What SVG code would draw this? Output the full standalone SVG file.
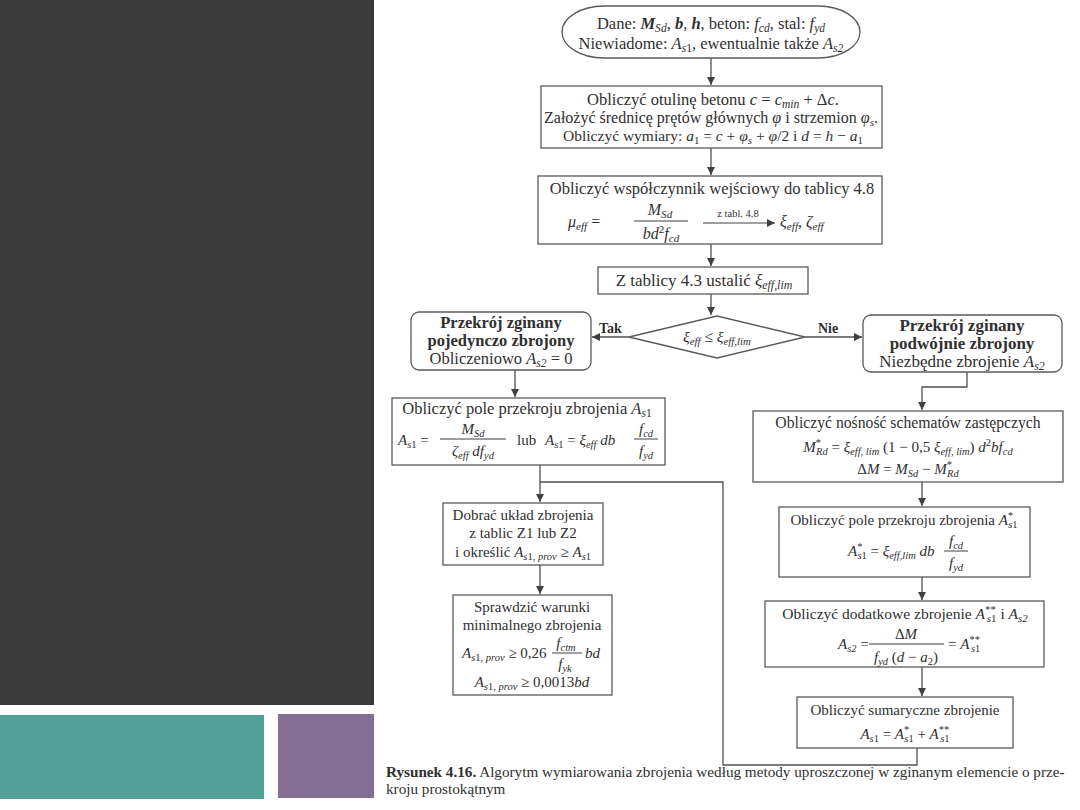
<svg xmlns="http://www.w3.org/2000/svg" width="1080" height="810" viewBox="0 0 1080 810" font-family="'Liberation Serif', 'DejaVu Serif', serif">
<style>
text{font-family:'Liberation Serif','DejaVu Serif',serif;font-size:15px;fill:#303030}
.c{text-anchor:middle}
.b{font-weight:bold}
.i{font-style:italic}
.s{font-size:0.7em}
.sm{font-size:14px}
.box{fill:#fff;stroke:#5a5a5a;stroke-width:1.3}
.ln{fill:none;stroke:#505050;stroke-width:1.3}
.fr{stroke:#404040;stroke-width:1}
.cap{font-size:15.2px}
</style>
<defs>
<marker id="ah" viewBox="0 0 10 10" refX="10" refY="5" markerWidth="9" markerHeight="8" markerUnits="userSpaceOnUse" orient="auto"><path d="M0,0L10,5L0,10z" fill="#404040"/></marker>
</defs>
<rect x="0" y="0" width="1080" height="810" fill="#ffffff"/>
<g id="decor">
<rect x="0" y="0" width="374" height="705" fill="#3a3a3a"/>
<rect x="0" y="715" width="264" height="84" fill="#529f98"/>
<rect x="278" y="714" width="96" height="84" fill="#826f93"/>
</g>

<g id="connectors">
<path class="ln" d="M711,58V85" marker-end="url(#ah)"/>
<path class="ln" d="M711,148V175" marker-end="url(#ah)"/>
<path class="ln" d="M711,244V266" marker-end="url(#ah)"/>
<path class="ln" d="M711,294V315" marker-end="url(#ah)"/>
<path class="ln" d="M629,337H592" marker-end="url(#ah)"/>
<path class="ln" d="M805,337H862" marker-end="url(#ah)"/>
<path class="ln" d="M515,370V397" marker-end="url(#ah)"/>
<path class="ln" d="M540,465V502" marker-end="url(#ah)"/>
<path class="ln" d="M540,482H723V765H917V748"/>
<path class="ln" d="M540,565V594" marker-end="url(#ah)"/>
<path class="ln" d="M967,372V387H922V410" marker-end="url(#ah)"/>
<path class="ln" d="M922,482V506" marker-end="url(#ah)"/>
<path class="ln" d="M922,577V600" marker-end="url(#ah)"/>
<path class="ln" d="M922,667V696" marker-end="url(#ah)"/>
<text x="599" y="333" class="sm b">Tak</text>
<text x="818" y="333" class="sm b">Nie</text>
</g>

<g id="n_start">
<rect class="box" x="562" y="6" width="298" height="52" rx="42" ry="26"/>
<text class="c" x="711" y="29" style="font-size:16.5px">Dane: <tspan class="i b">M</tspan><tspan class="i s" dy="2.5">Sd</tspan><tspan dy="-2.5">, </tspan><tspan class="i b">b</tspan>, <tspan class="i b">h</tspan>, beton: <tspan class="i">f</tspan><tspan class="i s" dy="2.5">cd</tspan><tspan dy="-2.5">, stal: </tspan><tspan class="i">f</tspan><tspan class="i s" dy="2.5">yd</tspan></text>
<text class="c" x="711" y="49" style="font-size:16.5px">Niewiadome: <tspan class="i">A</tspan><tspan class="i s" dy="2.5">s</tspan><tspan class="s">1</tspan><tspan dy="-2.5">, ewentualnie także </tspan><tspan class="i">A</tspan><tspan class="i s" dy="2.5">s2</tspan></text>
</g>

<g id="n_otulina">
<rect class="box" x="541" y="86" width="341" height="62"/>
<text class="c" x="713" y="105" style="font-size:16.5px">Obliczyć otulinę betonu <tspan class="i">c</tspan> = <tspan class="i">c</tspan><tspan class="i s" dy="2.5">min</tspan><tspan dy="-2.5"> + Δ</tspan><tspan class="i">c</tspan>.</text>
<text class="c" x="711" y="123" style="font-size:16px">Założyć średnicę prętów głównych <tspan class="i">φ</tspan> i strzemion <tspan class="i">φ</tspan><tspan class="i s" dy="2.5">s</tspan><tspan dy="-2.5">.</tspan></text>
<text class="c" x="713" y="141" style="font-size:15.5px">Obliczyć wymiary: <tspan class="i">a</tspan><tspan class="s" dy="2.5">1</tspan><tspan dy="-2.5"> = </tspan><tspan class="i">c</tspan> + <tspan class="i">φ</tspan><tspan class="i s" dy="2.5">s</tspan><tspan dy="-2.5"> + </tspan><tspan class="i">φ</tspan>/2 i  <tspan class="i">d</tspan> = <tspan class="i">h</tspan> − <tspan class="i">a</tspan><tspan class="s" dy="2.5">1</tspan></text>
</g>

<g id="n_wspolczynnik">
<rect class="box" x="538" y="176" width="344" height="68"/>
<text class="c" x="712" y="194" style="font-size:16.5px">Obliczyć współczynnik wejściowy do tablicy 4.8</text>
<text x="568" y="227" style="font-size:16px"><tspan class="i">μ</tspan><tspan class="i s" dy="3">eff</tspan><tspan dy="-3">  =</tspan></text>
<text class="c" x="660" y="215" style="font-size:16px"><tspan class="i">M</tspan><tspan class="i s" dy="3">Sd</tspan></text>
<line class="fr" x1="634" y1="221" x2="688" y2="221"/>
<text class="c" x="661" y="239" style="font-size:16px"><tspan class="i">bd</tspan><tspan class="s" dy="-6">2</tspan><tspan class="i" dy="6">f</tspan><tspan class="i s" dy="3">cd</tspan></text>
<text class="c" x="738" y="217" style="font-size:10.5px">z tabl. 4.8</text>
<path class="fr" d="M703,223H775" marker-end="url(#ah)"/>
<text x="780" y="227" style="font-size:16px"><tspan class="i">ξ</tspan><tspan class="i s" dy="3">eff</tspan><tspan dy="-3">, </tspan><tspan class="i">ζ</tspan><tspan class="i s" dy="3">eff</tspan></text>
</g>

<g id="n_tablica">
<rect class="box" x="598" y="267" width="210" height="27"/>
<text class="c" x="704" y="286" style="font-size:17px">Z tablicy 4.3 ustalić <tspan class="i">ξ</tspan><tspan class="i s" dy="3">eff,lim</tspan></text>
</g>

<g id="n_decision">
<polygon class="box" points="629,337 717,316 805,337 717,358"/>
<text class="c" x="717" y="342" style="font-size:15.5px"><tspan class="i">ξ</tspan><tspan class="i s" dy="3">eff</tspan><tspan dy="-3">  ≤  </tspan><tspan class="i">ξ</tspan><tspan class="i s" dy="3">eff,lim</tspan></text>
</g>

<g id="n_pojedynczo">
<rect class="box" x="411" y="312" width="180" height="58" rx="8"/>
<text class="c b" x="501" y="328" style="font-size:16.5px">Przekrój zginany</text>
<text class="c b" x="501" y="346" style="font-size:16.5px">pojedynczo zbrojony</text>
<text class="c" x="501" y="364" style="font-size:16.5px">Obliczeniowo <tspan class="i">A</tspan><tspan class="i s" dy="2.5">s2</tspan><tspan dy="-2.5"> = 0</tspan></text>
</g>

<g id="n_podwojnie">
<rect class="box" x="863" y="315" width="199" height="57" rx="8"/>
<text class="c b" x="962" y="331" style="font-size:17px">Przekrój zginany</text>
<text class="c b" x="962" y="349" style="font-size:17px">podwójnie zbrojony</text>
<text class="c" x="962" y="367" style="font-size:17px">Niezbędne zbrojenie <tspan class="i">A</tspan><tspan class="i s" dy="2.5">s2</tspan></text>
</g>

<g id="n_pole_as1">
<rect class="box" x="392" y="398" width="273" height="67"/>
<text class="c" x="527" y="414" style="font-size:16.5px">Obliczyć pole przekroju zbrojenia <tspan class="i">A</tspan><tspan class="i s" dy="2.5">s</tspan><tspan class="s">1</tspan></text>
<text x="398" y="445"><tspan class="i">A</tspan><tspan class="i s" dy="3">s</tspan><tspan class="s">1</tspan><tspan dy="-3"> =</tspan></text>
<text class="c" x="473" y="434"><tspan class="i">M</tspan><tspan class="i s" dy="3">Sd</tspan></text>
<line class="fr" x1="440" y1="439" x2="506" y2="439"/>
<text class="c" x="473" y="456"><tspan class="i">ζ</tspan><tspan class="i s" dy="3">eff</tspan><tspan class="i" dy="-3"> df</tspan><tspan class="i s" dy="3">yd</tspan></text>
<text x="517" y="445">lub</text>
<text x="545" y="445"><tspan class="i">A</tspan><tspan class="i s" dy="3">s</tspan><tspan class="s">1</tspan><tspan dy="-3"> = </tspan><tspan class="i">ξ</tspan><tspan class="i s" dy="3">eff</tspan><tspan class="i" dy="-3"> db</tspan></text>
<text class="c" x="646" y="434"><tspan class="i">f</tspan><tspan class="i s" dy="3">cd</tspan></text>
<line class="fr" x1="634" y1="439" x2="658" y2="439"/>
<text class="c" x="646" y="456"><tspan class="i">f</tspan><tspan class="i s" dy="3">yd</tspan></text>
</g>

<g id="n_dobrac">
<rect class="box" x="443" y="503" width="160" height="62"/>
<text class="c" x="523" y="520">Dobrać układ zbrojenia</text>
<text class="c" x="523" y="538">z tablic Z1 lub Z2</text>
<text class="c" x="523" y="557">i określić  <tspan class="i">A</tspan><tspan class="i s" dy="3">s</tspan><tspan class="s">1, </tspan><tspan class="i s">prov</tspan><tspan dy="-3"> ≥ </tspan><tspan class="i">A</tspan><tspan class="i s" dy="3">s</tspan><tspan class="s">1</tspan></text>
</g>

<g id="n_sprawdzic">
<rect class="box" x="453" y="595" width="159" height="100"/>
<text class="c" x="532" y="612">Sprawdzić warunki</text>
<text class="c" x="532" y="630">minimalnego zbrojenia</text>
<text x="462" y="658"><tspan class="i">A</tspan><tspan class="i s" dy="3">s</tspan><tspan class="s">1, </tspan><tspan class="i s">prov</tspan><tspan dy="-3"> ≥ 0,26</tspan></text>
<text class="c" x="566" y="648"><tspan class="i">f</tspan><tspan class="i s" dy="3">ctm</tspan></text>
<line class="fr" x1="552" y1="653" x2="582" y2="653"/>
<text class="c" x="565" y="669"><tspan class="i">f</tspan><tspan class="i s" dy="3">yk</tspan></text>
<text x="585" y="658" class="i">bd</text>
<text class="c" x="532" y="687"><tspan class="i">A</tspan><tspan class="i s" dy="3">s</tspan><tspan class="s">1, </tspan><tspan class="i s">prov</tspan><tspan dy="-3"> ≥ 0,0013</tspan><tspan class="i">bd</tspan></text>
</g>

<g id="n_nosnosc">
<rect class="box" x="753" y="411" width="310" height="71"/>
<text class="c" x="908" y="428" style="font-size:15.7px">Obliczyć nośność schematów zastępczych</text>
<text class="c" x="908" y="452"><tspan class="i">M</tspan><tspan class="s" dy="-6">*</tspan><tspan class="i s" dx="-5" dy="9">Rd</tspan><tspan dy="-3"> = </tspan><tspan class="i">ξ</tspan><tspan class="i s" dy="3">eff, lim</tspan><tspan dy="-3"> (1 − 0,5 </tspan><tspan class="i">ξ</tspan><tspan class="i s" dy="3">eff, lim</tspan><tspan dy="-3">)</tspan><tspan class="i"> d</tspan><tspan class="s" dy="-6">2</tspan><tspan class="i" dy="6">bf</tspan><tspan class="i s" dy="3">cd</tspan></text>
<text class="c" x="908" y="474">Δ<tspan class="i">M</tspan> = <tspan class="i">M</tspan><tspan class="i s" dy="3">Sd</tspan><tspan dy="-3"> − </tspan><tspan class="i">M</tspan><tspan class="s" dy="-6">*</tspan><tspan class="i s" dx="-5" dy="9">Rd</tspan></text>
</g>

<g id="n_pole_as1_star">
<rect class="box" x="779" y="507" width="251" height="70"/>
<text class="c" x="904" y="525">Obliczyć pole przekroju zbrojenia  <tspan class="i">A</tspan><tspan class="s" dy="-6">*</tspan><tspan class="i s" dx="-5" dy="9">s</tspan><tspan class="s">1</tspan></text>
<text x="848" y="556"><tspan class="i">A</tspan><tspan class="s" dy="-6">*</tspan><tspan class="i s" dx="-5" dy="9">s</tspan><tspan class="s">1</tspan><tspan dy="-3"> = </tspan><tspan class="i">ξ</tspan><tspan class="i s" dy="3">eff,lim</tspan><tspan class="i" dy="-3"> db</tspan></text>
<text class="c" x="956" y="546"><tspan class="i">f</tspan><tspan class="i s" dy="3">cd</tspan></text>
<line class="fr" x1="944" y1="551" x2="968" y2="551"/>
<text class="c" x="956" y="568"><tspan class="i">f</tspan><tspan class="i s" dy="3">yd</tspan></text>
</g>

<g id="n_dodatkowe">
<rect class="box" x="765" y="601" width="279" height="66"/>
<text class="c" x="905" y="619" style="font-size:15.5px">Obliczyć dodatkowe zbrojenie  <tspan class="i">A</tspan><tspan class="s" dy="-6">**</tspan><tspan class="i s" dx="-9" dy="9">s</tspan><tspan class="s">1</tspan><tspan dy="-3"> i </tspan><tspan class="i">A</tspan><tspan class="i s" dy="3">s2</tspan></text>
<text x="838" y="649"><tspan class="i">A</tspan><tspan class="i s" dy="3">s2</tspan><tspan dy="-3"> =</tspan></text>
<text class="c" x="906" y="639">Δ<tspan class="i">M</tspan></text>
<line class="fr" x1="869" y1="644" x2="944" y2="644"/>
<text class="c" x="906" y="662"><tspan class="i">f</tspan><tspan class="i s" dy="3">yd</tspan><tspan dy="-3"> (</tspan><tspan class="i">d</tspan> − <tspan class="i">a</tspan><tspan class="s" dy="3">2</tspan><tspan dy="-3">)</tspan></text>
<text x="948" y="649">= <tspan class="i">A</tspan><tspan class="s" dy="-6">**</tspan><tspan class="i s" dx="-9" dy="9">s</tspan><tspan class="s">1</tspan></text>
</g>

<g id="n_sumaryczne">
<rect class="box" x="797" y="697" width="216" height="51"/>
<text class="c" x="905" y="715">Obliczyć sumaryczne zbrojenie</text>
<text class="c" x="905" y="739"><tspan class="i">A</tspan><tspan class="i s" dy="3">s</tspan><tspan class="s">1</tspan><tspan dy="-3"> = </tspan><tspan class="i">A</tspan><tspan class="s" dy="-6">*</tspan><tspan class="i s" dx="-5" dy="9">s</tspan><tspan class="s">1</tspan><tspan dy="-3"> + </tspan><tspan class="i">A</tspan><tspan class="s" dy="-6">**</tspan><tspan class="i s" dx="-9" dy="9">s</tspan><tspan class="s">1</tspan></text>
</g>

<g id="caption">
<text class="cap" x="386" y="777"><tspan class="b">Rysunek 4.16.</tspan> Algorytm wymiarowania zbrojenia według metody uproszczonej w zginanym elemencie o prze-</text>
<text class="cap" x="386" y="794">kroju prostokątnym</text>
</g>
</svg>
